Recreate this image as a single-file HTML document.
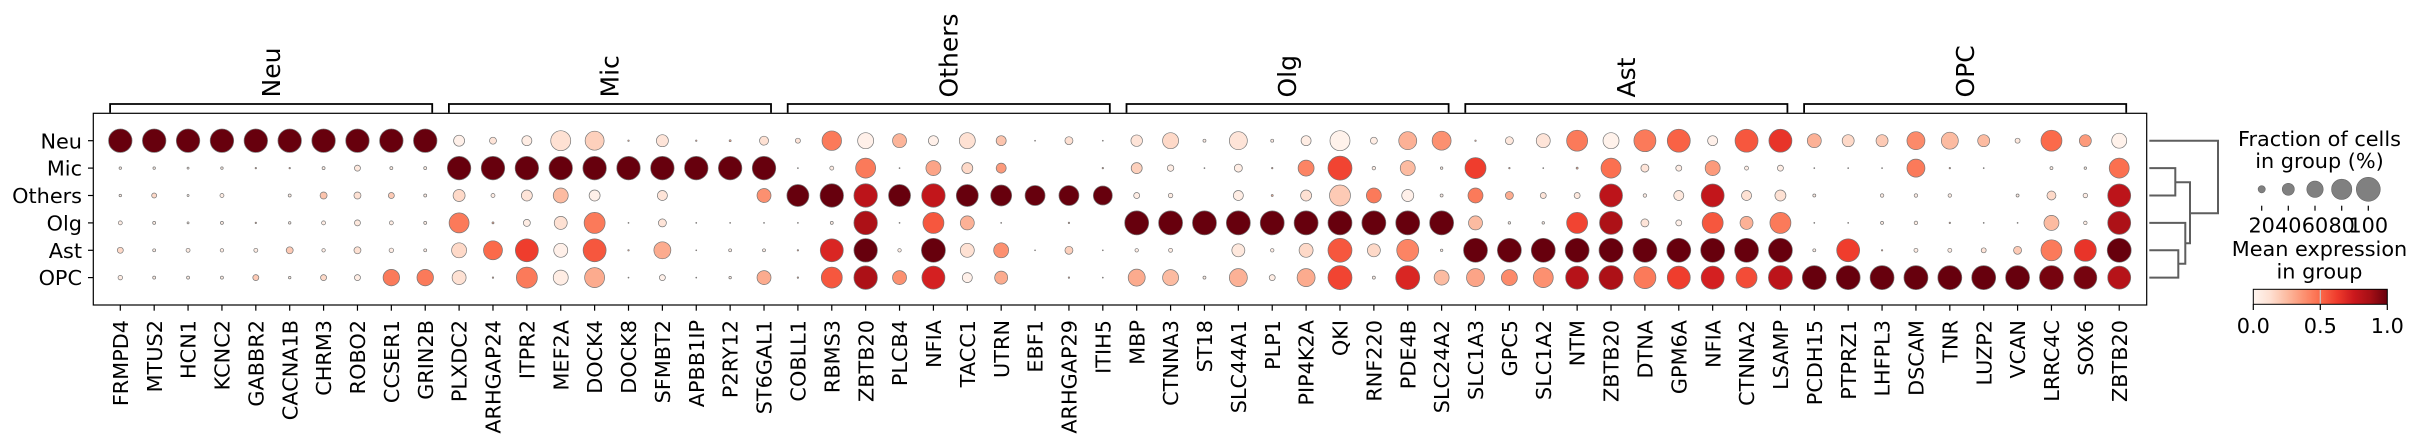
<!DOCTYPE html>
<html>
<head>
<meta charset="utf-8">
<style>
  html,body{margin:0;padding:0;background:#fff;}
  svg{display:block;}
  text{font-family:"DejaVu Sans","Liberation Sans",sans-serif;fill:#000;}
  .tl{font-size:20.8px;}
  .gl{font-size:25px;}
</style>
</head>
<body>
<svg id="chart" xmlns="http://www.w3.org/2000/svg" width="2419" height="442" viewBox="0 0 2419 442">
  <defs>
    <linearGradient id="reds" x1="0" y1="0" x2="1" y2="0">
      <stop offset="0" stop-color="#fff5f0"/>
      <stop offset="0.125" stop-color="#fee0d2"/>
      <stop offset="0.25" stop-color="#fcbba1"/>
      <stop offset="0.375" stop-color="#fc9272"/>
      <stop offset="0.5" stop-color="#fb6a4a"/>
      <stop offset="0.625" stop-color="#ef3b2c"/>
      <stop offset="0.75" stop-color="#cb181d"/>
      <stop offset="0.875" stop-color="#a50f15"/>
      <stop offset="1" stop-color="#67000d"/>
    </linearGradient>
  </defs>
  <rect x="0" y="0" width="2419" height="442" fill="#fff"/>

  <!-- frame -->
  <rect x="93.3" y="113.3" width="2053.4" height="191.7" fill="none" stroke="#000" stroke-width="1.2"/>

  <g id="ticks" stroke="#000" stroke-width="1.2"></g>
  <g id="brackets" fill="none" stroke="#000" stroke-width="1.8"></g>
  <g id="dots" stroke="#777" stroke-width="0.7"></g>

  <!-- y labels -->
  <g class="tl" text-anchor="end">
    <text x="82" y="148.3">Neu</text>
    <text x="82" y="175.7">Mic</text>
    <text x="82" y="203.1">Others</text>
    <text x="82" y="230.5">Olg</text>
    <text x="82" y="257.9">Ast</text>
    <text x="82" y="285.2">OPC</text>
  </g>

  <!-- group labels -->
  <g class="gl" text-anchor="start">
    <text transform="translate(279.8,97.5) rotate(-90)">Neu</text>
    <text transform="translate(618.6,97.5) rotate(-90)">Mic</text>
    <text transform="translate(957.4,97.5) rotate(-90)">Others</text>
    <text transform="translate(1296.2,97.5) rotate(-90)">Olg</text>
    <text transform="translate(1635,97.5) rotate(-90)">Ast</text>
    <text transform="translate(1973.8,97.5) rotate(-90)">OPC</text>
  </g>

  <!-- gene labels -->
  <g class="tl" text-anchor="end">
    <text transform="translate(127.9,320) rotate(-90)">FRMPD4</text>
    <text transform="translate(161.78,320) rotate(-90)">MTUS2</text>
    <text transform="translate(195.66,320) rotate(-90)">HCN1</text>
    <text transform="translate(229.54,320) rotate(-90)">KCNC2</text>
    <text transform="translate(263.42,320) rotate(-90)">GABBR2</text>
    <text transform="translate(297.3,320) rotate(-90)">CACNA1B</text>
    <text transform="translate(331.18,320) rotate(-90)">CHRM3</text>
    <text transform="translate(365.06,320) rotate(-90)">ROBO2</text>
    <text transform="translate(398.94,320) rotate(-90)">CCSER1</text>
    <text transform="translate(432.82,320) rotate(-90)">GRIN2B</text>
    <text transform="translate(466.7,320) rotate(-90)">PLXDC2</text>
    <text transform="translate(500.58,320) rotate(-90)">ARHGAP24</text>
    <text transform="translate(534.46,320) rotate(-90)">ITPR2</text>
    <text transform="translate(568.34,320) rotate(-90)">MEF2A</text>
    <text transform="translate(602.22,320) rotate(-90)">DOCK4</text>
    <text transform="translate(636.1,320) rotate(-90)">DOCK8</text>
    <text transform="translate(669.98,320) rotate(-90)">SFMBT2</text>
    <text transform="translate(703.86,320) rotate(-90)">APBB1IP</text>
    <text transform="translate(737.74,320) rotate(-90)">P2RY12</text>
    <text transform="translate(771.62,320) rotate(-90)">ST6GAL1</text>
    <text transform="translate(805.5,320) rotate(-90)">COBLL1</text>
    <text transform="translate(839.38,320) rotate(-90)">RBMS3</text>
    <text transform="translate(873.26,320) rotate(-90)">ZBTB20</text>
    <text transform="translate(907.14,320) rotate(-90)">PLCB4</text>
    <text transform="translate(941.02,320) rotate(-90)">NFIA</text>
    <text transform="translate(974.9,320) rotate(-90)">TACC1</text>
    <text transform="translate(1008.78,320) rotate(-90)">UTRN</text>
    <text transform="translate(1042.66,320) rotate(-90)">EBF1</text>
    <text transform="translate(1076.54,320) rotate(-90)">ARHGAP29</text>
    <text transform="translate(1110.42,320) rotate(-90)">ITIH5</text>
    <text transform="translate(1144.3,320) rotate(-90)">MBP</text>
    <text transform="translate(1178.18,320) rotate(-90)">CTNNA3</text>
    <text transform="translate(1212.06,320) rotate(-90)">ST18</text>
    <text transform="translate(1245.94,320) rotate(-90)">SLC44A1</text>
    <text transform="translate(1279.82,320) rotate(-90)">PLP1</text>
    <text transform="translate(1313.7,320) rotate(-90)">PIP4K2A</text>
    <text transform="translate(1347.58,320) rotate(-90)">QKI</text>
    <text transform="translate(1381.46,320) rotate(-90)">RNF220</text>
    <text transform="translate(1415.34,320) rotate(-90)">PDE4B</text>
    <text transform="translate(1449.22,320) rotate(-90)">SLC24A2</text>
    <text transform="translate(1483.1,320) rotate(-90)">SLC1A3</text>
    <text transform="translate(1516.98,320) rotate(-90)">GPC5</text>
    <text transform="translate(1550.86,320) rotate(-90)">SLC1A2</text>
    <text transform="translate(1584.74,320) rotate(-90)">NTM</text>
    <text transform="translate(1618.62,320) rotate(-90)">ZBTB20</text>
    <text transform="translate(1652.5,320) rotate(-90)">DTNA</text>
    <text transform="translate(1686.38,320) rotate(-90)">GPM6A</text>
    <text transform="translate(1720.26,320) rotate(-90)">NFIA</text>
    <text transform="translate(1754.14,320) rotate(-90)">CTNNA2</text>
    <text transform="translate(1788.02,320) rotate(-90)">LSAMP</text>
    <text transform="translate(1821.9,320) rotate(-90)">PCDH15</text>
    <text transform="translate(1855.78,320) rotate(-90)">PTPRZ1</text>
    <text transform="translate(1889.66,320) rotate(-90)">LHFPL3</text>
    <text transform="translate(1923.54,320) rotate(-90)">DSCAM</text>
    <text transform="translate(1957.42,320) rotate(-90)">TNR</text>
    <text transform="translate(1991.3,320) rotate(-90)">LUZP2</text>
    <text transform="translate(2025.18,320) rotate(-90)">VCAN</text>
    <text transform="translate(2059.06,320) rotate(-90)">LRRC4C</text>
    <text transform="translate(2092.94,320) rotate(-90)">SOX6</text>
    <text transform="translate(2126.82,320) rotate(-90)">ZBTB20</text>
  </g>

  <!-- dendrogram -->
  <g fill="none" stroke="#5e5e5e" stroke-width="2">
    <path d="M2149.3,140.7 H2218 V213.3 H2190"/>
    <path d="M2149.3,168.1 H2175.3 V195.5 H2149.3"/>
    <path d="M2175.3,182.3 H2190 V243.3 H2185.3"/>
    <path d="M2149.3,222.9 H2185.3 V263.7 H2178.3"/>
    <path d="M2149.3,250.3 H2178.3 V277.6 H2149.3"/>
  </g>

  <!-- legend: size -->
  <g class="tl" text-anchor="middle">
    <text x="2319.5" y="146">Fraction of cells</text>
    <text x="2319.5" y="168">in group (%)</text>
  </g>
  <g fill="#808080" stroke="#666" stroke-width="0.6">
    <circle cx="2261.7" cy="189.3" r="3.6"/>
    <circle cx="2288.3" cy="189.3" r="6.05"/>
    <circle cx="2315" cy="189.3" r="8.2"/>
    <circle cx="2341.7" cy="189.3" r="10.15"/>
    <circle cx="2368.3" cy="189.3" r="12"/>
  </g>
  <g stroke="#000" stroke-width="1.2">
    <line x1="2261.7" y1="205.7" x2="2261.7" y2="210.7"/>
    <line x1="2288.3" y1="205.7" x2="2288.3" y2="210.7"/>
    <line x1="2315" y1="205.7" x2="2315" y2="210.7"/>
    <line x1="2341.7" y1="205.7" x2="2341.7" y2="210.7"/>
    <line x1="2368.3" y1="205.7" x2="2368.3" y2="210.7"/>
  </g>
  <g class="tl" text-anchor="middle">
    <text x="2261.7" y="232.7">20</text>
    <text x="2288.3" y="232.7">40</text>
    <text x="2315" y="232.7">60</text>
    <text x="2341.7" y="232.7">80</text>
    <text x="2368.3" y="232.7">100</text>
  </g>

  <!-- legend: color -->
  <g class="tl" text-anchor="middle">
    <text x="2319.5" y="256">Mean expression</text>
    <text x="2319.5" y="278.3">in group</text>
  </g>
  <rect x="2253.3" y="289.3" width="134" height="15" fill="url(#reds)"/>
  <line x1="2320.3" y1="289.3" x2="2320.3" y2="304.3" stroke="#c8c8c8" stroke-width="1.2"/>
  <rect x="2253.3" y="289.3" width="134" height="15" fill="none" stroke="#000" stroke-width="1"/>
  <g stroke="#000" stroke-width="1.2">
    <line x1="2253.3" y1="304.3" x2="2253.3" y2="310"/>
    <line x1="2320.3" y1="304.3" x2="2320.3" y2="310"/>
    <line x1="2387.3" y1="304.3" x2="2387.3" y2="310"/>
  </g>
  <g class="tl" text-anchor="middle">
    <text x="2253.3" y="333">0.0</text>
    <text x="2320.3" y="333">0.5</text>
    <text x="2387.3" y="333">1.0</text>
  </g>
</svg>

<script>
(function(){
  var NS="http://www.w3.org/2000/svg";
  var A=[[255,245,240],[254,224,210],[252,187,161],[252,146,114],[251,106,74],[239,59,44],[203,24,29],[165,15,21],[103,0,13]];
  function col(v){
    v=Math.max(0,Math.min(1,v));
    var p=v*8, i=Math.floor(p); if(i>=8){i=7;}
    var t=p-i, a=A[i], b=A[i+1];
    return "rgb("+Math.round(a[0]+(b[0]-a[0])*t)+","+Math.round(a[1]+(b[1]-a[1])*t)+","+Math.round(a[2]+(b[2]-a[2])*t)+")";
  }
  function cx(k){return 120.3+33.88*k;}
  var rows=[140.7,168.1,195.5,222.9,250.3,277.6];
  var F=23.5;
  var D=[
   // Neu
   [[F,1],[2.5,.05],[2.5,.05],[4,.05],[6,.15],[4.5,.05]],
   [[F,1],[2.5,.05],[5,.15],[3,.05],[3,.05],[3,.05]],
   [[F,1],[2,.05],[2,.05],[2,.05],[4,.05],[3,.05]],
   [[F,1],[2.5,.05],[4,.05],[3,.05],[3.5,.05],[3,.05]],
   [[F,1],[1.5,.3],[0,0],[1.5,.3],[4,.05],[6,.2]],
   [[F,1],[1.5,.3],[3,.05],[2.5,.05],[7,.2],[2.5,.05]],
   [[F,1],[3,.05],[7,.22],[4,.05],[3.5,.05],[6,.15]],
   [[F,1],[6,.08],[7,.12],[6,.08],[7,.12],[6,.05]],
   [[F,1],[3,.05],[6,.2],[4,.05],[4.5,.05],[16.5,.45]],
   [[F,1],[3,.05],[3,.05],[3,.05],[3,.05],[16.5,.45]],
   // Mic
   [[11,.03],[F,1],[12,.15],[20,.45],[15,.15],[14,.12]],
   [[7,.1],[F,1],[4,.05],[2,.3],[19,.5],[1.5,.3]],
   [[10,.05],[F,1],[11,.1],[7,.05],[23,.62],[21,.45]],
   [[20,.12],[F,1],[15,.25],[13,.12],[14,.03],[15,.05]],
   [[19,.18],[F,1],[11,.03],[21,.45],[23,.55],[20,.3]],
   [[1.5,.3],[F,1],[0,0],[1,.3],[1.5,.3],[1,.3]],
   [[12,.1],[F,1],[10,.1],[8,.1],[17,.3],[6,.03]],
   [[1.5,.3],[F,1],[0,0],[1,.3],[1,.3],[1,.3]],
   [[2,.3],[F,1],[0,0],[1,.3],[3,.05],[2.5,.05]],
   [[9,.12],[F,1],[14,.38],[1,.3],[3,.05],[14,.3]],
   // Others
   [[5,.1],[1,.3],[22,1],[1,.3],[1.5,.3],[1.5,.3]],
   [[19.5,.45],[4,.05],[F,1],[3,.05],[23,.7],[21,.55]],
   [[16,.03],[20,.45],[F,.8],[F,.85],[F,1],[F,.85]],
   [[14,.27],[1,.3],[22,1],[1,.3],[3.5,.05],[14,.38]],
   [[10,.03],[15,.32],[F,.78],[21,.55],[24,1],[23,.72]],
   [[16,.12],[11,.15],[22,1],[14,.28],[14,.12],[10,.03]],
   [[10,.22],[10,.35],[21,1],[1,.3],[15,.38],[13,.3]],
   [[1,.3],[0,0],[20,1],[0,0],[1,.3],[0,0]],
   [[8,.12],[0,0],[20,1],[1.5,.3],[8,.18],[1.5,.3]],
   [[1,.3],[1.5,.3],[19,1],[0,0],[1,.3],[1,.3]],
   // Olg
   [[11.5,.1],[11,.18],[6,.05],[24,1],[3.5,.05],[17,.3]],
   [[16,.15],[6.5,.05],[4.5,.05],[24,1],[4,.05],[16,.25]],
   [[3,.05],[1,.3],[0,0],[24,1],[0,0],[3,.05]],
   [[18,.1],[8,.05],[10,.05],[24,1],[13,.08],[18,.28]],
   [[3,.05],[1.5,.3],[2,.3],[24,1],[3.5,.05],[6,.05]],
   [[10,.05],[16,.42],[11,.12],[24,1],[14,.15],[18,.3]],
   [[20,.02],[24,.6],[21,.2],[24,1],[24,.55],[24,.6]],
   [[7,.05],[3.5,.05],[15,.45],[24,1],[13,.15],[3,.05]],
   [[18,.28],[15,.25],[12,.03],[24,1],[22,.42],[24,.7]],
   [[19,.38],[2.5,.05],[3,.05],[24,1],[2.5,.05],[15,.25]],
   // Ast
   [[1.5,.3],[21,.62],[15,.45],[14,.25],[24,1],[18,.32]],
   [[8,.08],[1.5,.3],[8,.3],[2.5,.05],[24,1],[16,.4]],
   [[14,.1],[1,.3],[6,.1],[2.5,.05],[24,1],[20,.38]],
   [[21,.45],[2,.3],[6,.08],[21,.6],[24,1],[23,.82]],
   [[16,.02],[20,.48],[23,.8],[23,.85],[24,1],[24,.85]],
   [[22,.45],[8,.1],[3.5,.05],[8,.1],[24,1],[22,.45]],
   [[23,.52],[6,.05],[10,.08],[6,.03],[24,1],[23,.62]],
   [[10,.03],[15,.35],[23,.78],[21,.55],[24,1],[23,.72]],
   [[23,.55],[4,.05],[10,.12],[13,.28],[24,1],[21,.58]],
   [[23,.65],[6,.05],[11,.12],[21,.45],[24,1],[24,.8]],
   // OPC
   [[14,.28],[1,.3],[3,.05],[1,.3],[3,.05],[24,1]],
   [[12,.15],[1,.3],[0,0],[1,.3],[23,.62],[24,1]],
   [[12,.2],[1,.3],[3.5,.05],[3,.05],[1.5,.3],[24,1]],
   [[18,.4],[18,.45],[3.5,.05],[3.5,.05],[4,.05],[24,1]],
   [[17,.25],[1.5,.3],[3.5,.05],[1.5,.3],[4,.05],[24,1]],
   [[12,.25],[1,.3],[0,0],[1,.3],[5,.1],[24,1]],
   [[5,.08],[0,0],[3,.05],[1,.3],[8,.2],[24,1]],
   [[21,.5],[3,.05],[9,.15],[15,.25],[21,.45],[24,.97]],
   [[12,.35],[2.5,.05],[4.5,.05],[3.5,.05],[22,.65],[23,.97]],
   [[15,.02],[20,.48],[23,.8],[23,.85],[24,1],[23,.82]]
  ];
  var g=document.getElementById("dots");
  for(var k=0;k<D.length;k++){
    for(var r=0;r<6;r++){
      var d=D[k][r][0], v=D[k][r][1];
      if(d<=0) continue;
      var c=document.createElementNS(NS,"circle");
      c.setAttribute("cx",cx(k).toFixed(2));
      c.setAttribute("cy",rows[r]);
      c.setAttribute("r",(d/2).toFixed(2));
      c.setAttribute("fill",col(v));
      g.appendChild(c);
    }
  }
  var t=document.getElementById("ticks");
  function line(x1,y1,x2,y2){
    var l=document.createElementNS(NS,"line");
    l.setAttribute("x1",x1);l.setAttribute("y1",y1);l.setAttribute("x2",x2);l.setAttribute("y2",y2);
    t.appendChild(l);
  }
  for(var k2=0;k2<60;k2++){ line(cx(k2),305,cx(k2),310.7); }
  for(var r2=0;r2<6;r2++){ line(88,rows[r2],93.3,rows[r2]); }
  var b=document.getElementById("brackets");
  for(var gi=0;gi<6;gi++){
    var x1=cx(10*gi)-10.2, x2=cx(10*gi+9)+7;
    var p=document.createElementNS(NS,"path");
    p.setAttribute("d","M"+x1.toFixed(2)+",112.7 V104 H"+x2.toFixed(2)+" V112.7");
    b.appendChild(p);
  }
})();
</script>
</body>
</html>
